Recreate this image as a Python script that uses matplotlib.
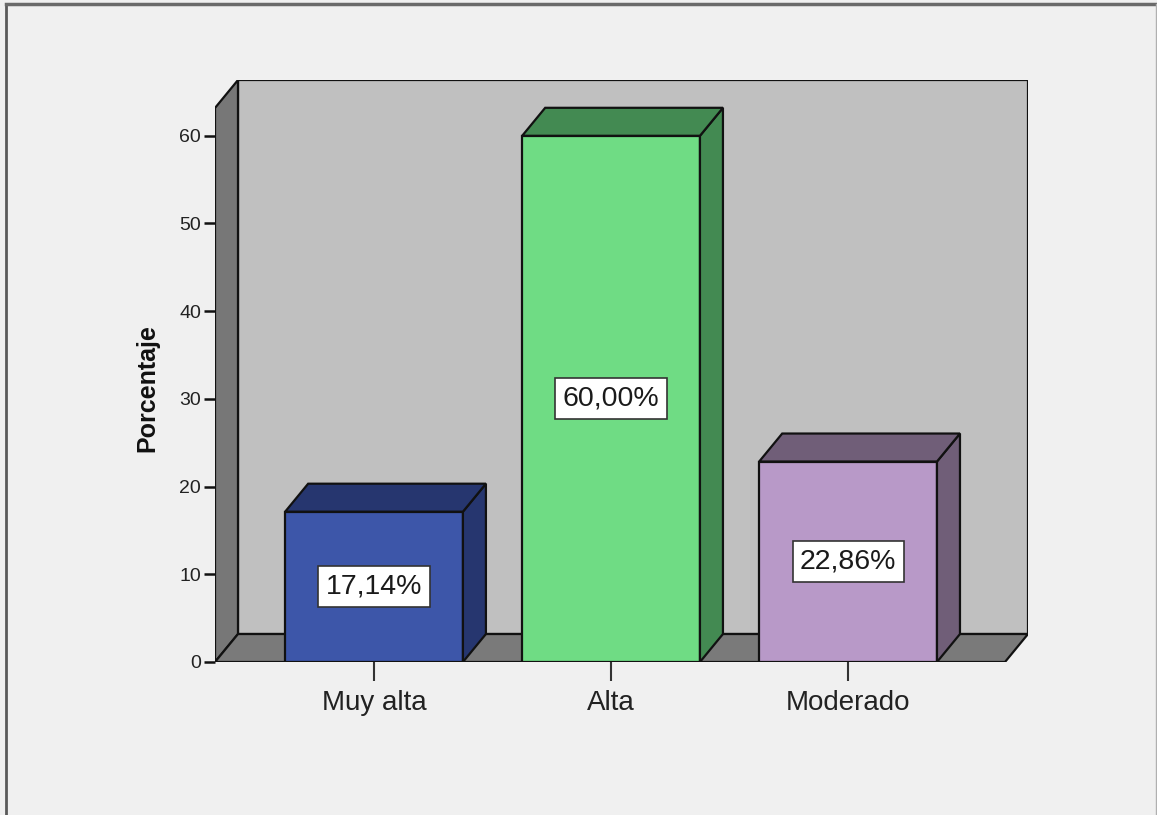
import matplotlib
matplotlib.use('Agg')
from matplotlib import pyplot as plt
from matplotlib.lines import Line2D

plt.rcParams['font.family'] = ['Liberation Sans', 'DejaVu Sans']

categories = ['Muy alta', 'Alta', 'Moderado']
values = [17.14, 60.00, 22.86]
labels = ['17,14%', '60,00%', '22,86%']
yticks = [0, 10, 20, 30, 40, 50, 60]

front_colors = ['#3d56a9', '#6fdc84', '#b899c8']
shade_colors = ['#26366f', '#438a52', '#705e78']

# 3d look
DX, DY = 0.097, 3.19      # depth offset in data units
W = 0.75                  # bar width
X0, X1 = -0.671, 2.662    # floor front edge
WALL = 63.17              # wall height

fig = plt.figure(figsize=(11.57, 8.15), dpi=100)
fig.patch.set_facecolor('#f0f0f0')
ax = fig.add_axes([215 / 1157, 153 / 815, 813 / 1157, 582 / 815])
ax.set_facecolor('none')
ax.set_xlim(X0, X1 + DX)
ax.set_ylim(0, WALL + DY)

edge = dict(edgecolor='#111111', linewidth=1.6, joinstyle='miter')

# back wall, left wall, floor
ax.fill([X0 + DX, X1 + DX, X1 + DX, X0 + DX], [DY, DY, WALL + DY, WALL + DY],
        facecolor='#c0c0c0', **edge)
ax.fill([X0, X0 + DX, X0 + DX, X0], [0, DY, WALL + DY, WALL],
        facecolor='#777777', **edge)
ax.fill([X0, X1, X1 + DX, X0 + DX], [0, 0, DY, DY],
        facecolor='#7a7a7a', **edge)

for i, v in enumerate(values):
    l, r = i - W / 2, i + W / 2
    ax.fill([l, r, r, l], [0, 0, v, v], facecolor=front_colors[i], **edge)
    ax.fill([r, r + DX, r + DX, r], [0, DY, v + DY, v], facecolor=shade_colors[i], **edge)
    ax.fill([l, l + DX, r + DX, r], [v, v + DY, v + DY, v], facecolor=shade_colors[i], **edge)
    ax.text(i, v / 2, labels[i], ha='center', va='center', fontsize=20.5, color='#1a1a1a',
            bbox=dict(boxstyle='square,pad=0.26', facecolor='white', edgecolor='#333333', linewidth=1.2))

for s in ax.spines.values():
    s.set_visible(False)

ax.set_yticks(yticks)
ax.set_yticklabels([str(t) for t in yticks], fontsize=14, color='#222222')
ax.tick_params(axis='y', direction='out', length=8, width=1.8, color='#111111', pad=2)
ax.set_xticks(range(len(categories)))
ax.set_xticklabels(categories, fontsize=20, color='#222222')
ax.tick_params(axis='x', direction='out', length=14, width=1.5, color='#333333', pad=6)

ax.set_ylabel('Porcentaje', fontsize=18, fontweight='bold', color='#111111')
ax.yaxis.set_label_coords(-0.068, 0.47)

# outer frame
fig.add_artist(Line2D([6 / 1157, 6 / 1157], [0, 1 - 4 / 815], transform=fig.transFigure,
                      color='#5a5a5a', linewidth=2))
fig.add_artist(Line2D([6 / 1157, 1], [1 - 4 / 815, 1 - 4 / 815], transform=fig.transFigure,
                      color='#6a6a6a', linewidth=2.5))
fig.add_artist(Line2D([1155.5 / 1157, 1155.5 / 1157], [0, 1 - 4 / 815], transform=fig.transFigure,
                      color='#b0b0b0', linewidth=1))

fig.savefig('out.png', dpi=100, facecolor=fig.get_facecolor())
